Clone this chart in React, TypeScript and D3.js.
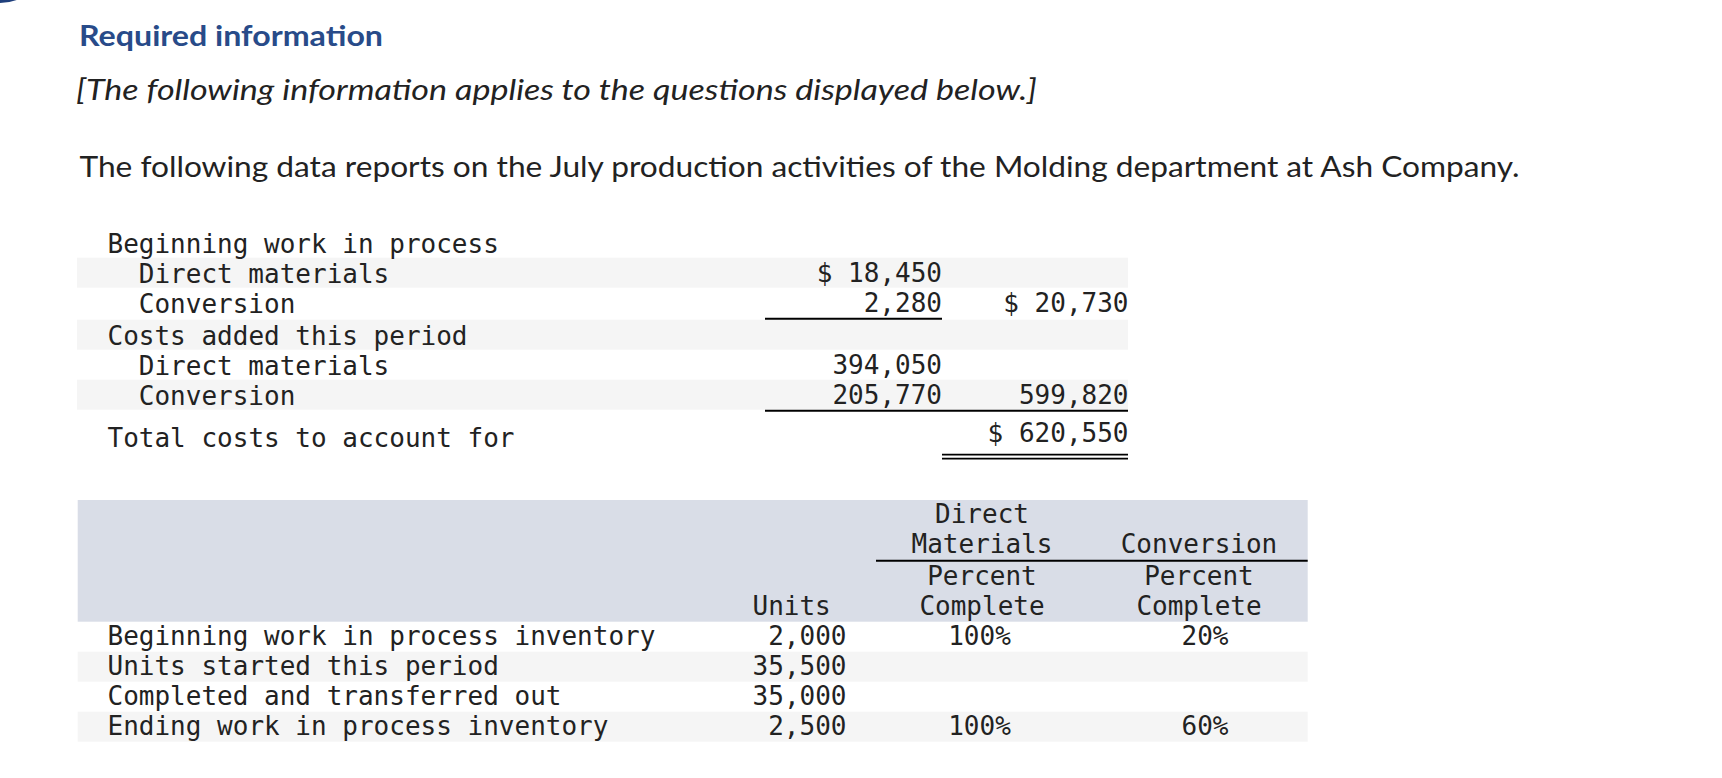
import React from "react";
import * as d3 from "d3";

// ---------- data ----------
const titleText = "Required information";
const noteText = "[The following information applies to the questions displayed below.]";
const introText =
  "The following data reports on the July production activities of the Molding department at Ash Company.";

const costLabels = [
  "Beginning work in process",
  "Direct materials",
  "Conversion",
  "Costs added this period",
  "Direct materials",
  "Conversion",
  "Total costs to account for",
];
const costIndent = [0, 1, 1, 0, 1, 1, 0];
const costCol1 = [null, 18450, 2280, null, 394050, 205770, null];
const costCol1Dollar = [false, true, false, false, false, false, false];
const costCol2 = [null, null, 20730, null, null, 599820, 620550];
const costCol2Dollar = [false, false, true, false, false, false, true];
const costCol1Rule = [false, false, true, false, false, true, false];
const costCol2Rule = ["", "", "", "", "", "single", "double"];

const unitLabels = [
  "Beginning work in process inventory",
  "Units started this period",
  "Completed and transferred out",
  "Ending work in process inventory",
];
const unitValues = [2000, 35500, 35000, 2500];
const dmPercent = [100, null, null, 100];
const convPercent = [20, null, null, 60];
const headerDM = ["Direct", "Materials", "Percent", "Complete"];
const headerConv = ["", "Conversion", "Percent", "Complete"];
const headerUnits = ["", "", "", "Units"];

// ---------- styles ----------
const MONO = "'DejaVu Sans Mono', monospace";
const SANS = "Lato, 'Open Sans', sans-serif";
const INK = "#222222";
const BLUE = "#284b89";
const BAND = "#f5f5f5";
const HEAD = "#d9dde7";

export default function App() {
  const W = 1722;
  const H = 778;
  const fmt = d3.format(",");
  const charW = 26 * 0.602;

  // ---- top table geometry ----
  const rowH = 30;
  const lastRow = costLabels.length - 1;
  const heights = costLabels.map((_, i) =>
    i === lastRow ? 48 : rowH + (costCol1Rule[i] || costCol2Rule[i] === "single" ? 2 : 0)
  );
  const tops = [227.7, ...Array.from(d3.cumsum(heights)).map((c) => 227.7 + c)];
  const topBaseline = (i: number) => tops[i] + (i === lastRow ? 30 : 24.5);
  const labelBaseline = (i: number) => topBaseline(i) + (i === lastRow ? 5 : 0.5);
  const xTop = d3
    .scaleOrdinal<string, number>()
    .domain(["band0", "label", "c1", "c2", "c1start"])
    .range([77, 107.5, 942, 1128.5, 765]);

  // ---- bottom table geometry ----
  const yRows = d3
    .scaleBand<number>()
    .domain(d3.range(unitLabels.length))
    .range([621.7, 621.7 + rowH * unitLabels.length]);
  const headBaselines = [523.3, 553.3, 585, 615];
  const xBot = d3
    .scaleOrdinal<string, number>()
    .domain(["band0", "band1", "label", "unitsHead", "units", "dmHead", "dm", "convHead", "conv", "rule0"])
    .range([77.7, 1307.7, 107.5, 752.5, 846.5, 982, 979.5, 1199, 1205, 876]);

  return (
    <svg
      width={W}
      height={H}
      viewBox={`0 0 ${W} ${H}`}
      style={{ position: "absolute", left: 0, top: 0, background: "#fff" }}
    >
      <rect x={0} y={0} width={W} height={H} fill="#fff" />
      <circle cx={0} cy={-45} r={48} fill="#1f3f7c" />

      <text x={79} y={46} fontFamily={SANS} fontWeight={700} fontSize={28} fill={BLUE} textLength={304} lengthAdjust="spacingAndGlyphs">
        {titleText}
      </text>
      <text x={76} y={100} fontFamily={SANS} fontStyle="italic" fontSize={28} fill={INK} textLength={961} lengthAdjust="spacingAndGlyphs">
        {noteText}
      </text>
      <text x={79.5} y={176.7} fontFamily={SANS} fontSize={28} fill={INK} textLength={1440} lengthAdjust="spacingAndGlyphs">
        {introText}
      </text>

      {/* ---------- top table ---------- */}
      <g fontFamily={MONO} fontSize={26} fill={INK}>
        {costLabels.map((_, i) =>
          i % 2 === 1 ? (
            <rect key={"b" + i} x={xTop("band0")} y={tops[i]} width={xTop("c2") - 0.5 - xTop("band0")} height={rowH} fill={BAND} />
          ) : null
        )}
        {costLabels.map((lab, i) => (
          <text key={"l" + i} x={xTop("label") + costIndent[i] * 2 * charW} y={labelBaseline(i)} style={{ whiteSpace: "pre" }}>
            {lab}
          </text>
        ))}
        {costCol1.map((v, i) =>
          v == null ? null : (
            <text key={"c1" + i} x={xTop("c1")} y={topBaseline(i)} textAnchor="end" style={{ whiteSpace: "pre" }}>
              {(costCol1Dollar[i] ? "$ " : "") + fmt(v)}
            </text>
          )
        )}
        {costCol2.map((v, i) =>
          v == null ? null : (
            <text key={"c2" + i} x={xTop("c2")} y={topBaseline(i)} textAnchor="end" style={{ whiteSpace: "pre" }}>
              {(costCol2Dollar[i] ? "$ " : "") + fmt(v)}
            </text>
          )
        )}
        {costCol1Rule.map((r, i) =>
          r ? (
            <line key={"r1" + i} x1={xTop("c1start")} x2={xTop("c1")} y1={tops[i + 1] - 1} y2={tops[i + 1] - 1} stroke="#000" strokeWidth={2} />
          ) : null
        )}
        {costCol2Rule.map((r, i) => {
          if (r === "single")
            return (
              <line key={"r2" + i} x1={xTop("c1")} x2={xTop("c2") - 0.5} y1={tops[i + 1] - 1} y2={tops[i + 1] - 1} stroke="#000" strokeWidth={2} />
            );
          if (r === "double")
            return (
              <g key={"r2" + i}>
                <line x1={xTop("c1")} x2={xTop("c2") - 0.5} y1={tops[i + 1] - 5} y2={tops[i + 1] - 5} stroke="#000" strokeWidth={1.7} />
                <line x1={xTop("c1")} x2={xTop("c2") - 0.5} y1={tops[i + 1] - 1} y2={tops[i + 1] - 1} stroke="#000" strokeWidth={1.7} />
              </g>
            );
          return null;
        })}
      </g>

      {/* ---------- bottom table ---------- */}
      <g fontFamily={MONO} fontSize={26} fill={INK}>
        <rect x={xBot("band0")} y={500} width={xBot("band1") - xBot("band0")} height={121.7} fill={HEAD} />
        {unitLabels.map((_, i) =>
          i % 2 === 1 ? (
            <rect key={"bb" + i} x={xBot("band0")} y={yRows(i)} width={xBot("band1") - xBot("band0")} height={yRows.bandwidth()} fill={BAND} />
          ) : null
        )}
        <line x1={xBot("rule0")} x2={xBot("band1")} y1={560.8} y2={560.8} stroke="#000" strokeWidth={2} />
        {headBaselines.map((b, k) => (
          <g key={"h" + k}>
            {headerUnits[k] ? (
              <text x={xBot("unitsHead")} y={b}>{headerUnits[k]}</text>
            ) : null}
            {headerDM[k] ? (
              <text x={xBot("dmHead")} y={b} textAnchor="middle">{headerDM[k]}</text>
            ) : null}
            {headerConv[k] ? (
              <text x={xBot("convHead")} y={b} textAnchor="middle">{headerConv[k]}</text>
            ) : null}
          </g>
        ))}
        {unitLabels.map((lab, i) => {
          const y = (yRows(i) as number) + 23.3;
          return (
            <g key={"u" + i}>
              <text x={xBot("label")} y={y}>{lab}</text>
              <text x={xBot("units")} y={y} textAnchor="end">{fmt(unitValues[i])}</text>
              {dmPercent[i] != null ? (
                <text x={xBot("dm")} y={y} textAnchor="middle">{dmPercent[i] + "%"}</text>
              ) : null}
              {convPercent[i] != null ? (
                <text x={xBot("conv")} y={y} textAnchor="middle">{convPercent[i] + "%"}</text>
              ) : null}
            </g>
          );
        })}
      </g>
    </svg>
  );
}
